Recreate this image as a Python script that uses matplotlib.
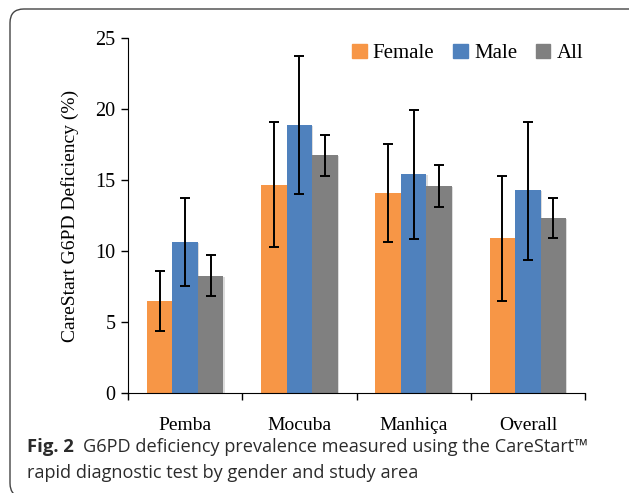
import numpy as np
import matplotlib.pyplot as plt
from matplotlib.patches import FancyBboxPatch

areas = ["Pemba", "Mocuba", "Manhiça", "Overall"]
series = ["Female", "Male", "All"]
colors = ["#F79646", "#4F81BD", "#808080"]

female = [6.5, 14.65, 14.05, 10.9]
female_lo = [4.35, 10.3, 10.65, 6.5]
female_hi = [8.6, 19.05, 17.5, 15.25]

male = [10.6, 18.85, 15.4, 14.3]
male_lo = [7.55, 14.0, 10.85, 9.4]
male_hi = [13.7, 23.7, 19.95, 19.1]

total = [8.25, 16.75, 14.55, 12.3]
total_lo = [6.85, 15.3, 13.1, 10.9]
total_hi = [9.7, 18.2, 16.05, 13.75]

fig = plt.figure(figsize=(6.29, 4.93), dpi=100)

# rounded frame around chart + caption (right/bottom run off the picture)
frame = FancyBboxPatch((10 / 629, -4 / 493), 650 / 629, 488 / 493,
                       boxstyle="round,pad=0,rounding_size=0.022",
                       transform=fig.transFigure, fill=False,
                       edgecolor="#444444", linewidth=1.0, mutation_aspect=629 / 493)
fig.patches.append(frame)

ax = fig.add_axes([128 / 629, 1 - 393 / 493, 457 / 629, 355 / 493])

x = np.arange(len(areas))
w = 0.223
data = [(female, female_lo, female_hi), (male, male_lo, male_hi), (total, total_lo, total_hi)]
for i, (vals, lo, hi) in enumerate(data):
    vals = np.array(vals)
    err = [vals - np.array(lo), np.array(hi) - vals]
    pos = x + (i - 1) * w
    # faint shadow
    ax.bar(pos + 0.012, vals - 0.05, w, color="#dcdcdc", zorder=1)
    ax.bar(pos, vals, w, color=colors[i], label=series[i], zorder=2)
    ax.errorbar(pos, vals, yerr=err, fmt="none", ecolor="black",
                elinewidth=1.4, capsize=3.6, capthick=1.4, zorder=3)

ax.set_xlim(-0.5, 3.5)
ax.set_ylim(0, 25)
ax.set_yticks([0, 5, 10, 15, 20, 25])
ax.set_xticks(x)
ax.set_xticklabels(areas, fontsize=14, fontfamily="Liberation Serif")
ax.set_xticks(np.arange(-0.5, 4, 1), minor=True)
ax.tick_params(axis="x", which="major", length=0, pad=17)
ax.tick_params(axis="x", which="minor", length=5, direction="out", width=1)
ax.tick_params(axis="y", length=5, direction="out", width=1, pad=4)
for lab in ax.get_yticklabels():
    lab.set_fontfamily("Liberation Serif")
    lab.set_fontsize(14.5)

ax.spines["top"].set_visible(False)
ax.spines["right"].set_visible(False)
ax.set_ylabel("CareStart G6PD Deficiency (%)", fontsize=14,
              fontfamily="Liberation Serif", labelpad=12)

handles = [plt.Rectangle((0, 0), 1, 1, color=c) for c in colors]
ax.legend(handles, series, loc="upper left", bbox_to_anchor=(0.449, 1.037),
          ncol=3, frameon=False, handlelength=0.7, handleheight=0.7,
          handletextpad=0.3, columnspacing=0.9,
          prop={"family": "Liberation Serif", "size": 15})

# caption
cap_col = "#2b2b2b"
t1 = fig.text(27 / 629, 1 - 452 / 493, "Fig. 2", fontsize=13.3,
              fontweight="bold", fontfamily="Open Sans", color=cap_col)
fig.canvas.draw()
bb = t1.get_window_extent()
fig.text((bb.x1 + 9) / 629, 1 - 452 / 493,
         "G6PD deficiency prevalence measured using the CareStart\u2122",
         fontsize=13.1, fontfamily="Open Sans", color=cap_col)
fig.text(27 / 629, 1 - 478 / 493, "rapid diagnostic test by gender and study area",
         fontsize=13.1, fontfamily="Open Sans", color=cap_col)

fig.savefig("out.png", dpi=100)
